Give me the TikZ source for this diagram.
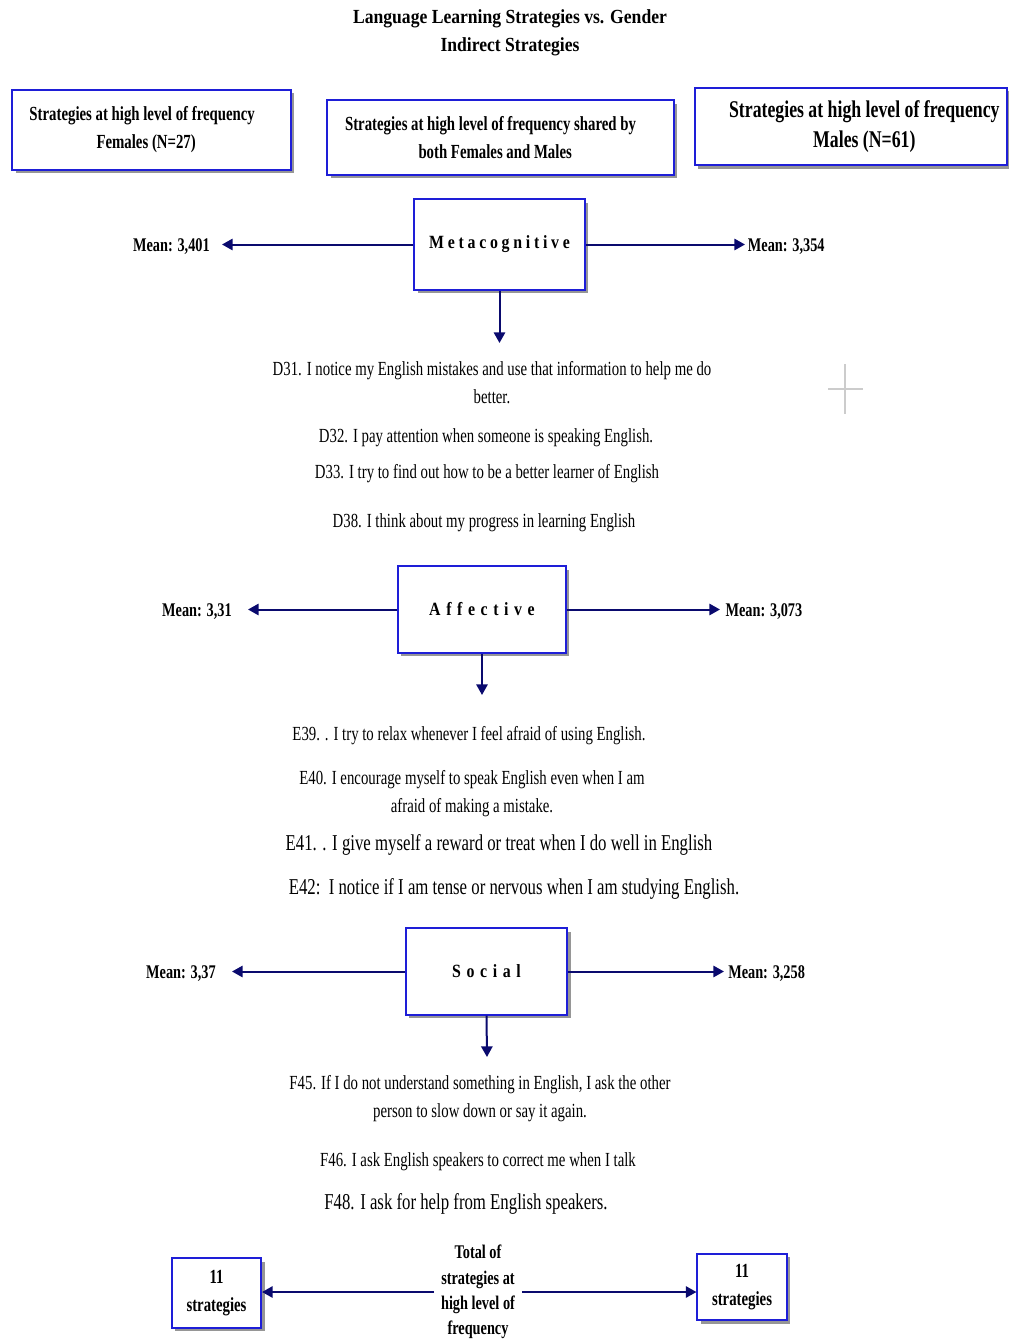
\documentclass[tikz,border=0pt]{standalone}
\usepackage{fontspec}
\setmainfont{Liberation Serif}
\newfontfamily\condfont[FakeStretch=0.74]{Liberation Serif}
\newfontfamily\headfont[FakeStretch=0.88]{Liberation Serif}
\newfontfamily\spacedfont[FakeStretch=0.85,LetterSpace=30]{Liberation Serif}
\usetikzlibrary{arrows.meta, positioning, shadows}
\definecolor{boxblue}{RGB}{30,30,215}
\definecolor{arrownavy}{RGB}{10,10,110}
\definecolor{shadowgray}{RGB}{150,150,150}
\tikzset{
  catbox/.style={draw=boxblue, line width=1.3pt, fill=white, align=center, inner sep=2pt,
    drop shadow={shadow xshift=2.5pt, shadow yshift=-2.5pt, fill=shadowgray, opacity=1}},
  boxtext/.style={font=\condfont\bfseries\fontsize{15}{21}\selectfont},
  groupbox/.style={catbox, font=\spacedfont\bfseries\fontsize{14}{16}\selectfont},
  arr/.style={draw=arrownavy, line width=1.5pt, -{Triangle[length=8pt,width=8.5pt]}},
  meanlabel/.style={font=\condfont\bfseries\fontsize{14.5}{16}\selectfont, inner sep=0pt, yshift=-1.5pt},
  itemtext/.style={font=\condfont\fontsize{15}{21}\selectfont, align=center, inner sep=0pt},
  bigitem/.style={itemtext, font=\condfont\fontsize{17}{21}\selectfont}
}
\begin{document}
\begin{tikzpicture}[x=0.75pt, y=-0.75pt]
  \useasboundingbox (0,0) rectangle (1009,1339);
  % Title
  \node[font=\headfont\bfseries\fontsize{15}{21}\selectfont, align=center] (title) at (510,33) {Language Learning Strategies vs. Gender\\Indirect Strategies};
  % Header boxes
  \node[catbox, boxtext, minimum width=209pt, minimum height=60pt] (females) at (151.5,130) {\hspace*{-14pt}Strategies at high level of frequency\\\hspace*{-8pt}Females (N=27)};
  \node[catbox, boxtext, minimum width=260pt, minimum height=56pt] (shared) at (500.5,137.5) {\hspace*{-15pt}Strategies at high level of frequency shared by\\\hspace*{-8pt}both Females and Males};
  \node[catbox, boxtext, font=\condfont\bfseries\fontsize{18}{22}\selectfont, minimum width=234pt, minimum height=58pt] (males) at (851,126.5) {\hspace*{20pt}Strategies at high level of frequency\\\hspace*{20pt}Males (N=61)};
  % Metacognitive
  \node[groupbox, font=\spacedfont\bfseries\fontsize{14}{16}\selectfont\addfontfeature{LetterSpace=20}, minimum width=128pt, minimum height=68pt] (meta) at (499.5,244.5) {Metacognitive};
  \coordinate (metaL) at (222,244.5);
  \coordinate (metaR) at (745,244.5);
  \coordinate (metaD) at (499.5,343);
  \node[meanlabel, left=9pt of metaL] (metaMeanF) {Mean: 3,401};
  \node[meanlabel, right=2pt of metaR] (metaMeanM) {Mean: 3,354};
  \draw[arr] (meta.west) -- (meta.west -| metaL);
  \draw[arr] (meta.east) -- (meta.east -| metaR);
  \draw[arr] (meta.south) -- (metaD);
  \node[itemtext] (d31) at (492,383) {D31. I notice my English mistakes and use that information to help me do\\better.};
  \node[itemtext] (d32) at (486,438) {D32. I pay attention when someone is speaking English.};
  \node[itemtext] (d33) at (487,474) {D33. I try to find out how to be a better learner of English};
  \node[itemtext] (d38) at (484,523) {D38. I think about my progress in learning English};
  % Affective
  \node[groupbox, minimum width=126pt, minimum height=65pt] (aff) at (482,609.5) {Affective};
  \coordinate (affL) at (248,609.5);
  \coordinate (affR) at (720,609.5);
  \coordinate (affD) at (482,695);
  \node[meanlabel, left=12pt of affL] (affMeanF) {Mean: 3,31};
  \node[meanlabel, right=4pt of affR] (affMeanM) {Mean: 3,073};
  \draw[arr] (aff.west) -- (aff.west -| affL);
  \draw[arr] (aff.east) -- (aff.east -| affR);
  \draw[arr] (aff.south) -- (affD);
  \node[itemtext] (e39) at (469,736) {E39. . I try to relax whenever I feel afraid of using English.};
  \node[itemtext] (e40) at (472,794) {E40. I encourage myself to speak English even when I am\\afraid of making a mistake.};
  \node[bigitem] (e41) at (499,845) {E41. . I give myself a reward or treat when I do well in English};
  \node[bigitem] (e42) at (514,889) {E42:\ \ I notice if I am tense or nervous when I am studying English.};
  % Social
  \node[groupbox, minimum width=121pt, minimum height=65pt] (soc) at (486.5,971.5) {Social};
  \coordinate (socL) at (232,971.5);
  \coordinate (socR) at (724,971.5);
  \coordinate (socD) at (487,1057);
  \node[meanlabel, left=12pt of socL] (socMeanF) {Mean: 3,37};
  \node[meanlabel, right=3pt of socR] (socMeanM) {Mean: 3,258};
  \draw[arr] (soc.west) -- (soc.west -| socL);
  \draw[arr] (soc.east) -- (soc.east -| socR);
  \draw[arr] (soc.south) -- (socD);
  \node[itemtext] (f45) at (480,1099) {F45. If I do not understand something in English, I ask the other\\person to slow down or say it again.};
  \node[itemtext] (f46) at (478,1162) {F46. I ask English speakers to correct me when I talk};
  \node[bigitem] (f48) at (466,1204) {F48. I ask for help from English speakers.};
  % Totals
  \node[catbox, boxtext, minimum width=67pt, minimum height=52pt] (totalF) at (216.5,1293) {11\\strategies};
  \node[catbox, boxtext, minimum width=67pt, minimum height=50pt] (totalM) at (742,1287) {11\\strategies};
  \node[boxtext, font=\condfont\bfseries\fontsize{14.5}{19}\selectfont, align=center, inner xsep=5pt] (total) at (478,1292) {Total of\\strategies at\\high level of\\frequency};
  \draw[arr] (total.west |- 0,1292) -- (totalF.east |- 0,1292);
  \draw[arr] (total.east |- 0,1292) -- (totalM.west |- 0,1292);
  % stray mark
  \draw[black!20, line width=1.5pt] (828,389) -- (863,389) (845,364) -- (845,414);
\end{tikzpicture}
\end{document}
